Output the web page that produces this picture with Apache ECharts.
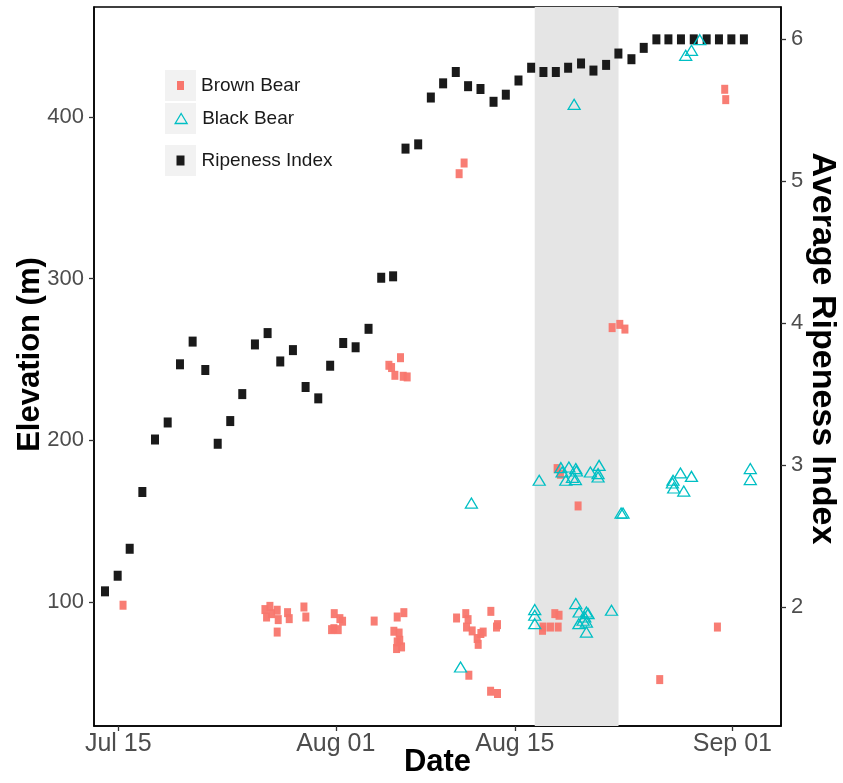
<!DOCTYPE html>
<html>
<head>
<meta charset="utf-8">
<script src="https://cdn.jsdelivr.net/npm/echarts@6/dist/echarts.min.js"></script>
<style>
  html, body { margin: 0; padding: 0; background: #fff; }
  #chart { width: 843px; height: 783px; }
</style>
</head>
<body>
<div id="chart"></div>
<script>
// days are counted from Jul 15
const ORIGIN = Date.UTC(2019, 6, 15)
const dayOf = (s) => (Date.parse(s) - ORIGIN) / 86400000

const tickDates = ['2019-07-15', '2019-08-01', '2019-08-15', '2019-09-01']
const tickLabels = ['Jul 15', 'Aug 01', 'Aug 15', 'Sep 01']
const elevTicks = [100, 200, 300, 400]
const ripeTicks = [2, 3, 4, 5, 6]

// grey band (days from Jul 15)
const shadeRange = [32.55, 39.1]

// brown bear locations
const brownDay = [0.37, 11.46, 11.59, 11.85, 11.98, 12.42, 12.5, 12.42, 13.23, 13.36,
  14.51, 14.66, 16.88, 17.32, 17.53, 16.85, 17.19, 16.67, 20.0, 21.8,
  22.32, 21.54, 21.95, 22.0, 21.8, 22.14, 21.75, 22.06, 21.15, 21.36,
  21.62, 22.27, 22.58, 26.44, 27.16, 27.34, 27.22, 27.66, 28.05, 28.13,
  28.34, 28.52, 29.12, 29.64, 29.56, 27.4, 29.1, 29.64, 26.64, 27.03,
  33.2, 33.16, 33.78, 34.38, 34.12, 34.45, 34.3, 34.56, 35.94, 38.6,
  39.2, 39.6, 42.32, 46.83, 47.4, 47.48]
const brownElev = [98.0, 95.3, 90.7, 97.3, 92.8, 94.9, 89.1, 81.4, 93.4, 89.7,
  96.9, 90.7, 92.8, 89.7, 88.1, 83.5, 82.9, 82.9, 88.2, 90.7,
  93.4, 81.9, 80.8, 76.3, 75.3, 72.2, 71.2, 251.1, 246.4, 245.0,
  240.2, 239.6, 239.2, 90.1, 92.8, 89.1, 84.5, 82.1, 77.4, 73.8,
  80.5, 81.4, 94.2, 86.0, 84.5, 54.7, 44.8, 43.4, 364.9, 371.5,
  84.5, 82.5, 84.5, 84.5, 92.8, 91.8, 182.5, 179.0, 159.4, 269.7,
  271.7, 268.8, 52.0, 84.5, 417.1, 410.7]

// black bear locations
const blackDay = [26.75, 27.6, 32.55, 32.55, 32.55, 32.9, 34.59, 34.69, 35.22, 35.76,
  35.81, 35.5, 34.98, 35.73, 36.9, 37.58, 37.5, 37.5, 39.45, 39.3,
  43.36, 43.31, 43.94, 44.8, 43.41, 44.2, 49.4, 49.4, 35.63, 44.35,
  44.8, 45.45, 35.76, 36.02, 36.59, 36.72, 36.46, 36.33, 36.0, 36.59,
  36.59, 38.55]
const blackElev = [59.8, 161.2, 95.3, 91.8, 86.6, 175.3, 183.1, 180.4, 183.5, 182.5,
  181.0, 177.1, 175.3, 175.7, 180.4, 184.5, 179.4, 177.3, 155.0, 155.0,
  175.3, 173.6, 179.8, 177.7, 170.5, 168.6, 182.5, 175.7, 407.8, 438.1,
  441.2, 447.8, 99.0, 93.8, 93.8, 92.8, 90.7, 88.7, 86.6, 87.6,
  81.4, 94.9]

// average ripeness index
const ripeDay = [-1.04, -0.05, 0.89, 1.88, 2.87, 3.86, 4.82, 5.81, 6.8, 7.77,
  8.75, 9.69, 10.68, 11.67, 12.66, 13.65, 14.64, 15.63, 16.56, 17.58,
  18.55, 19.56, 20.55, 21.48, 22.45, 23.44, 24.43, 25.39, 26.38, 27.34,
  28.31, 29.33, 30.29, 31.28, 32.27, 33.23, 34.2, 35.16, 36.17, 37.14,
  38.13, 39.09, 40.11, 41.07, 42.06, 43.0, 43.98, 44.98, 45.99, 46.95,
  47.92, 48.9]
const ripeIndex = [2.11, 2.22, 2.41, 2.81, 3.18, 3.30, 3.71, 3.87, 3.67, 3.15,
  3.31, 3.50, 3.85, 3.93, 3.73, 3.81, 3.55, 3.47, 3.70, 3.86,
  3.83, 3.96, 4.32, 4.33, 5.23, 5.26, 5.59, 5.69, 5.77, 5.67,
  5.65, 5.56, 5.61, 5.71, 5.80, 5.77, 5.77, 5.80, 5.83, 5.78,
  5.82, 5.90, 5.86, 5.94, 6.0, 6.0, 6.0, 6.0, 6.0, 6.0,
  6.0, 6.0]

const BROWN = '#F8766D'
const CYAN = '#00BFC4'
const FONT = 'Liberation Sans'

const tickDays = tickDates.map(dayOf)
const zip = (xs, ys) => xs.map((x, i) => [x, ys[i]])

let chart = echarts.init(document.getElementById('chart'))

const axisLabelStyle = { color: '#4D4D4D', fontSize: 25, fontFamily: FONT }
const yLabelStyle = { color: '#4D4D4D', fontSize: 22, fontFamily: FONT }
const nameStyle = { color: '#000', fontSize: 31, fontWeight: 'bold', fontFamily: FONT }

let legendBase = {
  orient: 'vertical',
  selectedMode: false,
  padding: 0,
  textStyle: { fontSize: 19, color: '#1a1a1a', fontFamily: FONT }
}

chart.setOption({
  animation: false,
  backgroundColor: '#fff',
  grid: {
    left: 94, right: 62, top: 7, bottom: 57,
    outerBoundsMode: 'none', containLabel: false,
    show: true, borderColor: '#000', borderWidth: 1.5, backgroundColor: 'transparent'
  },
  graphic: [
    { type: 'rect', z: 0, shape: { x: 165, y: 70, width: 31, height: 31 }, style: { fill: '#F2F2F2' } },
    { type: 'rect', z: 0, shape: { x: 165, y: 103, width: 31, height: 31 }, style: { fill: '#F2F2F2' } },
    { type: 'rect', z: 0, shape: { x: 165, y: 145, width: 31, height: 31 }, style: { fill: '#F2F2F2' } }
  ],
  legend: [
    Object.assign({}, legendBase, {
      left: 177, top: 76, itemWidth: 7, itemHeight: 9,
      data: [{ name: 'Brown Bear', icon: 'rect', itemStyle: { color: BROWN, opacity: 1 } }],
      textStyle: Object.assign({}, legendBase.textStyle, { padding: [0, 0, 0, 12] })
    }),
    Object.assign({}, legendBase, {
      left: 174.5, top: 109, itemWidth: 12, itemHeight: 10,
      data: [{ name: 'Black Bear', icon: 'triangle',
        itemStyle: { color: 'transparent', borderColor: CYAN, borderWidth: 1.3, opacity: 1 } }],
      textStyle: Object.assign({}, legendBase.textStyle, { padding: [0, 0, 0, 10] })
    }),
    Object.assign({}, legendBase, {
      left: 176.5, top: 151, itemWidth: 8, itemHeight: 10,
      data: [{ name: 'Ripeness Index', icon: 'rect', itemStyle: { color: '#1a1a1a', opacity: 1 } }],
      textStyle: Object.assign({}, legendBase.textStyle, { padding: [0, 0, 0, 12] })
    })
  ],
  xAxis: {
    type: 'value',
    min: -1.9, max: 51.8,
    name: 'Date', nameLocation: 'middle', nameGap: 21, nameMoveOverlap: false,
    nameTextStyle: nameStyle,
    axisLine: { show: true, onZero: false, lineStyle: { color: '#000', width: 1.5 } },
    axisTick: { show: true, customValues: tickDays, length: 5, lineStyle: { color: '#333', width: 1.3 } },
    axisLabel: Object.assign({}, axisLabelStyle, {
      customValues: tickDays, margin: 6,
      formatter: (v) => tickLabels[tickDays.indexOf(v)]
    }),
    splitLine: { show: false }
  },
  yAxis: [
    {
      type: 'value', position: 'left',
      min: 23.3, max: 468,
      name: 'Elevation (m)', nameLocation: 'middle', nameGap: 48, nameMoveOverlap: false,
      nameTextStyle: Object.assign({}, nameStyle, { padding: [0, 0, 0, 24] }),
      axisLine: { show: true, onZero: false, lineStyle: { color: '#000', width: 1.5 } },
      axisTick: { show: true, customValues: elevTicks, length: 5, lineStyle: { color: '#333', width: 1.3 } },
      axisLabel: Object.assign({}, yLabelStyle, { customValues: elevTicks, margin: 10 }),
      splitLine: { show: false }
    },
    {
      type: 'value', position: 'right',
      min: 1.161, max: 6.228,
      name: 'Average Ripeness Index', nameLocation: 'middle', nameGap: 24, nameRotate: -90,
      nameMoveOverlap: false,
      nameTextStyle: Object.assign({}, nameStyle, { fontSize: 34, padding: [0, 36, 0, 0] }),
      axisLine: { show: true, onZero: false, lineStyle: { color: '#000', width: 1.5 } },
      axisTick: { show: true, customValues: ripeTicks, length: 5, lineStyle: { color: '#333', width: 1.3 } },
      axisLabel: Object.assign({}, yLabelStyle, { customValues: ripeTicks, margin: 10 }),
      splitLine: { show: false }
    }
  ],
  series: [
    {
      // shaded period
      name: 'shade', type: 'scatter', data: [], z: 0, silent: true,
      markArea: {
        silent: true,
        itemStyle: { color: '#E5E5E5' },
        data: [[{ xAxis: shadeRange[0] }, { xAxis: shadeRange[1] }]]
      }
    },
    {
      name: 'Ripeness Index', type: 'scatter', yAxisIndex: 1, z: 2,
      symbol: 'rect', symbolSize: [8, 10],
      itemStyle: { color: '#1a1a1a', opacity: 1 },
      data: zip(ripeDay, ripeIndex)
    },
    {
      name: 'Brown Bear', type: 'scatter', yAxisIndex: 0, z: 3,
      symbol: 'rect', symbolSize: [7, 9],
      itemStyle: { color: BROWN, opacity: 0.95 },
      data: zip(brownDay, brownElev)
    },
    {
      name: 'Black Bear', type: 'scatter', yAxisIndex: 0, z: 4,
      symbol: 'triangle', symbolSize: [12, 10],
      itemStyle: { color: 'transparent', borderColor: CYAN, borderWidth: 1.3, opacity: 1 },
      data: zip(blackDay, blackElev)
    }
  ]
})
</script>
</body>
</html>
